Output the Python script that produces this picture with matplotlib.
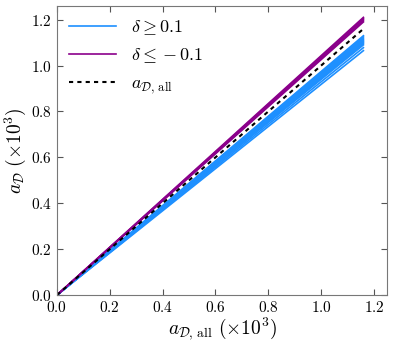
import numpy as np
import matplotlib.pyplot as plt

plt.rcParams['mathtext.fontset'] = 'cm'
plt.rcParams['font.family'] = 'serif'
plt.rcParams['font.serif'] = ['DejaVu Serif']

# end points of the lines (x = a_D,all, y = a_D), in units of 10^3
x_end = 1.16
blue_end = [1.065, 1.078, 1.09, 1.095, 1.10, 1.105, 1.11, 1.115, 1.12, 1.125, 1.13]
purple_end = [1.19, 1.195, 1.20, 1.205, 1.21]
ticks = [0.0, 0.2, 0.4, 0.6, 0.8, 1.0, 1.2]

fig = plt.figure(figsize=(4.15, 3.46), dpi=100)
ax = fig.add_axes([0.137, 0.147, 0.796, 0.836])

x = np.array([0.0, x_end])
for i, y1 in enumerate(blue_end):
    ax.plot(x, [0.0, y1], color='#1e90ff', lw=1.2,
            label=r'$\delta \geq 0.1$' if i == 0 else None)
for i, y1 in enumerate(purple_end):
    ax.plot(x, [0.0, y1], color='#8b008b', lw=1.2,
            label=r'$\delta \leq -0.1$' if i == 0 else None)
ax.plot(x, x, color='black', ls=(0, (2, 2)), lw=1.5,
        label=r'$a_{\mathcal{D},\,\mathrm{all}}$')

ax.set_xlim(0, 1.25)
ax.set_ylim(0, 1.26)
ax.set_xticks(ticks)
ax.set_yticks(ticks)
ax.set_xticklabels([r'$%.1f$' % t for t in ticks], fontsize=11)
ax.set_yticklabels([r'$%.1f$' % t for t in ticks], fontsize=11)
ax.tick_params(direction='in', top=True, right=True, length=4, color='#555555')
for s in ax.spines.values():
    s.set_color('#777777')

ax.set_xlabel(r'$a_{\mathcal{D},\,\mathrm{all}}\ (\times 10^3)$', fontsize=14, labelpad=0)
ax.set_ylabel(r'$a_{\mathcal{D}}\ (\times 10^3)$', fontsize=14, labelpad=2)

leg = ax.legend(loc='upper left', frameon=False, fontsize=13, handlelength=2.6,
                borderaxespad=0.3, labelspacing=0.5)

fig.savefig('out.png', dpi=100)
